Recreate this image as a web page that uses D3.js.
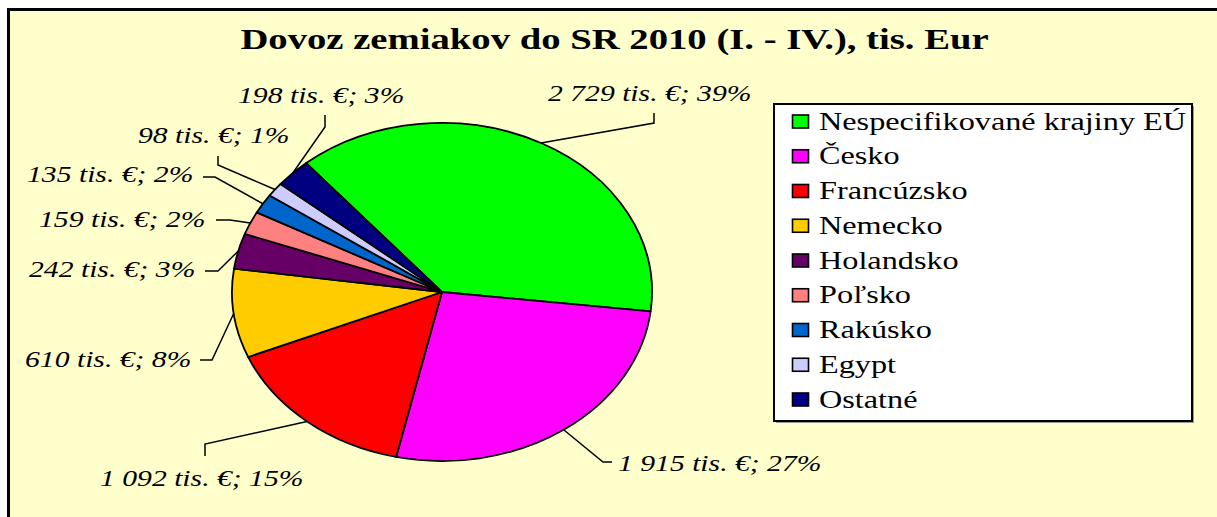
<!DOCTYPE html>
<html>
<head>
<meta charset="utf-8">
<script src="https://cdn.jsdelivr.net/npm/d3@7"></script>
<style>
  html, body { margin: 0; padding: 0; background: #fff; }
  svg { display: block; }
  text { font-family: "Liberation Serif", "Times New Roman", serif; fill: #000; }
</style>
</head>
<body>
<script>
// data
var categories = ["Nespecifikované krajiny EÚ", "Česko", "Francúzsko", "Nemecko", "Holandsko", "Poľsko", "Rakúsko", "Egypt", "Ostatné"];
var values = [2729, 1915, 1092, 610, 242, 159, 135, 98, 198];
var percents = [39, 27, 15, 8, 3, 2, 2, 1, 3];
var colors = ["#00FF00", "#FF00FF", "#FF0000", "#FFCC00", "#660066", "#FF8080", "#0066CC", "#CCCCFF", "#000080"];

// where each data label sits and how its leader line bends
var labelLayout = [
  {x: 548, y: 101, pts: [[654, 113], [654, 123]]},
  {x: 618, y: 471, pts: [[612, 462], [603, 462]]},
  {x: 100, y: 486, pts: [[205, 456], [205, 444]]},
  {x: 25,  y: 367, pts: [[200, 360], [212, 360]]},
  {x: 29,  y: 277, pts: [[205, 271], [218, 271]]},
  {x: 39,  y: 227, pts: [[216, 220], [230, 220]]},
  {x: 27,  y: 182, pts: [[203, 177], [215, 177]]},
  {x: 138, y: 143, pts: [[218, 156], [218, 165]]},
  {x: 238, y: 103, pts: [[325, 115], [325, 127]]}
];

var svgWidth = 1217, svgHeight = 517;
var sx = 1.29;               // the original is stretched sideways
var cx = 442, cy = 292, rx = 210, ry = 169;

var svg = d3.select("body").append("svg")
  .attr("width", svgWidth)
  .attr("height", svgHeight);

// chart area
svg.append("rect")
  .attr("x", 8.5).attr("y", 9.5)
  .attr("width", 1400).attr("height", 700)
  .attr("fill", "#FFFFCC")
  .attr("stroke", "#000")
  .attr("stroke-width", 3);

// title
svg.append("text")
  .attr("transform", "translate(614.5,49) scale(" + sx + ",1)")
  .attr("text-anchor", "middle")
  .attr("font-size", "30px")
  .attr("font-weight", "bold")
  .text("Dovoz zemiakov do SR 2010 (I. - IV.), tis. Eur");

// pie
var pie = d3.pie().sort(null)
  .startAngle(-40.3 * Math.PI / 180)
  .endAngle(-40.3 * Math.PI / 180 + 2 * Math.PI);
var slices = pie(values);

var arc = d3.arc().innerRadius(0).outerRadius(rx);
var edge = d3.arc().innerRadius(rx).outerRadius(rx);

var pieG = svg.append("g")
  .attr("transform", "translate(" + cx + "," + cy + ") scale(1," + (ry / rx) + ")");

pieG.selectAll("path")
  .data(slices)
  .enter().append("path")
  .attr("d", arc)
  .attr("fill", function(d, i) { return colors[i]; })
  .attr("stroke", "#000")
  .attr("stroke-width", 1.8)
  .attr("stroke-linejoin", "round")
  .attr("vector-effect", "non-scaling-stroke");

// leader lines
var line = d3.line();
svg.selectAll("path.leader")
  .data(slices)
  .enter().append("path")
  .attr("class", "leader")
  .attr("d", function(d, i) {
    var c = edge.centroid(d);
    var end = [cx + c[0], cy + c[1] * ry / rx];
    return line(labelLayout[i].pts.concat([end]));
  })
  .attr("fill", "none")
  .attr("stroke", "#000")
  .attr("stroke-width", 1.5);

// data labels
function fmt(v) { return String(v).replace(/\B(?=(\d{3})+(?!\d))/g, " "); }

svg.selectAll("text.lbl")
  .data(slices)
  .enter().append("text")
  .attr("class", "lbl")
  .attr("transform", function(d, i) {
    return "translate(" + labelLayout[i].x + "," + labelLayout[i].y + ") scale(" + sx + ",1)";
  })
  .attr("font-size", "23px")
  .attr("font-style", "italic")
  .text(function(d, i) { return fmt(values[i]) + " tis. €; " + percents[i] + "%"; });

// legend
var legend = svg.append("g");
legend.append("rect")
  .attr("x", 776).attr("y", 106)
  .attr("width", 418).attr("height", 317)
  .attr("fill", "#999");
legend.append("rect")
  .attr("x", 774).attr("y", 104)
  .attr("width", 418).attr("height", 317)
  .attr("fill", "#fff")
  .attr("stroke", "#000")
  .attr("stroke-width", 2);

var yLeg = d3.scalePoint().domain(categories).range([129.5, 407.5]);

var item = legend.selectAll("g.item")
  .data(categories)
  .enter().append("g")
  .attr("class", "item")
  .attr("transform", function(d) { return "translate(0," + yLeg(d) + ")"; });

item.append("rect")
  .attr("x", 792.5).attr("y", -14.5)
  .attr("width", 16).attr("height", 13)
  .attr("fill", function(d, i) { return colors[i]; })
  .attr("stroke", "#000")
  .attr("stroke-width", 1.6);

item.append("text")
  .attr("transform", "translate(819,0) scale(" + sx + ",1)")
  .attr("font-size", "25px")
  .text(function(d) { return d; });
</script>
</body>
</html>
